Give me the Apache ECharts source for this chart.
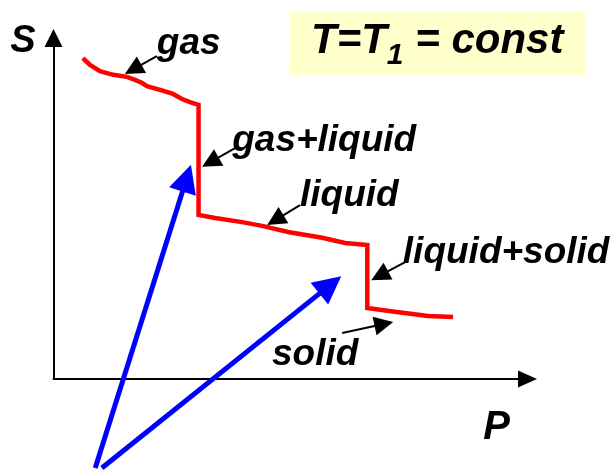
<!DOCTYPE html>
<html><head><meta charset="utf-8">
<script src="https://cdn.jsdelivr.net/npm/echarts@6/dist/echarts.min.js"></script>
<style>html,body{margin:0;padding:0;background:#fff}#c{width:613px;height:470px}</style>
</head><body><div id="c"></div>
<script>
// Isotherm S(P) at T = T1: phase curve (arbitrary units, P: 0..10, S: 0..10)
const curveP = [0.62,0.77,0.98,1.26,1.55,1.72,1.87,1.97,2.25,2.52,2.71,2.88,3.06,3.06,3.41,3.98,4.40,4.95,5.67,6.15,6.62,6.62,7.20,7.90,8.43];
const curveS = [9.41,9.21,9.03,8.92,8.86,8.77,8.68,8.59,8.48,8.36,8.21,8.12,8.04,4.81,4.72,4.60,4.49,4.31,4.14,3.99,3.93,2.08,1.97,1.85,1.82];

// Phase labels and their pointer arrows
const phaseNames = ['gas','gas+liquid','liquid','liquid+solid','solid'];
const phaseLabelP = [2.18,3.77,5.20,7.37,4.61];
const phaseLabelS = [9.84,6.99,5.38,3.71,0.72];
const pointerFrom = [[2.18,9.47],[3.83,6.77],[5.20,5.10],[7.42,3.43],[6.09,1.35]];
const pointerTo   = [[1.68,9.08],[3.31,6.36],[4.68,4.66],[6.88,3.03],[6.97,1.61]];

// Blue arrows
const blueFrom = [[0.88,-2.61],[1.02,-2.61]];
const blueTo   = [[2.81,5.89],[5.84,2.76]];

const axisNames = ['P','S'];
const titleParts = ['T=T','1',' = const'];

const FONT = "'Liberation Sans', Arial, sans-serif";
const chart = echarts.init(document.getElementById('c'), null, {renderer:'canvas'});

const curveData = curveP.map((p,i)=>[p, curveS[i]]);
const labelData = phaseNames.map((n,i)=>({name:n, value:[phaseLabelP[i], phaseLabelS[i]]}));
const pointerData = pointerFrom.map((f,i)=>({coords:[f, pointerTo[i]]}));
const blueData = blueFrom.map((f,i)=>({coords:[f, blueTo[i]]}));

chart.setOption({
  backgroundColor: '#ffffff',
  animation: false,
  title: {
    text: '{a|' + titleParts[0] + '}{b|' + titleParts[1] + '}{a|' + titleParts[2] + '}',
    left: 290, top: 3,
    padding: [8, 22, 4, 21],
    backgroundColor: '#FFFFCC',
    textStyle: {
      rich: {
        a: {fontSize: 42, fontWeight: 'bold', fontStyle: 'italic', fontFamily: FONT, color: '#000'},
        b: {fontSize: 30, fontWeight: 'bold', fontStyle: 'italic', fontFamily: FONT, color: '#000', padding: [30,0,0,0]}
      }
    }
  },
  grid: {left: 53.5, right: 85.5, top: 38, bottom: 91, containLabel: false},
  xAxis: {
    type: 'value', min: 0, max: 10,
    name: axisNames[0], nameLocation: 'end', nameGap: -31,
    nameTextStyle: {fontSize: 40, fontWeight: 'bold', fontStyle: 'italic', fontFamily: FONT, color: '#000', align: 'center', verticalAlign: 'top', padding: [29,0,0,0]},
    axisLine: {show: true, onZero: false, symbol: ['none','triangle'], symbolSize: [17,19], lineStyle: {color: '#000', width: 2}},
    axisTick: {show: false}, axisLabel: {show: false}, splitLine: {show: false}
  },
  yAxis: {
    type: 'value', min: 0, max: 10,
    name: axisNames[1], nameLocation: 'end', nameGap: -4,
    nameTextStyle: {fontSize: 38, fontWeight: 'bold', fontStyle: 'italic', fontFamily: FONT, color: '#000', align: 'right', verticalAlign: 'middle', padding: [0,18,0,0]},
    axisLine: {show: true, onZero: false, symbol: ['none','triangle'], symbolSize: [18,18], lineStyle: {color: '#000', width: 2}},
    axisTick: {show: false}, axisLabel: {show: false}, splitLine: {show: false}
  },
  series: [
    {
      type: 'line', name: 'isotherm', data: curveData, symbol: 'none', clip: false,
      lineStyle: {color: '#FF0000', width: 4.5, join: 'miter'}, z: 3
    },
    {
      type: 'lines', coordinateSystem: 'cartesian2d', clip: false,
      data: blueData, symbol: ['none','triangle'], symbolSize: 28,
      lineStyle: {color: '#0000FF', width: 5, opacity: 1, curveness: 0}, z: 4
    },
    {
      type: 'lines', coordinateSystem: 'cartesian2d', clip: false,
      data: pointerData, symbol: ['none','triangle'], symbolSize: 19,
      lineStyle: {color: '#000000', width: 2, opacity: 1, curveness: 0}, z: 5
    },
    {
      type: 'scatter', data: labelData, symbolSize: 0, clip: false, silent: true,
      itemStyle: {opacity: 1},
      label: {show: true, position: 'right', distance: 0, formatter: '{b}', opacity: 1,
        fontSize: 37, fontWeight: 'bold', fontStyle: 'italic', fontFamily: FONT, color: '#000000'},
      z: 6
    }
  ]
});
</script></body></html>
